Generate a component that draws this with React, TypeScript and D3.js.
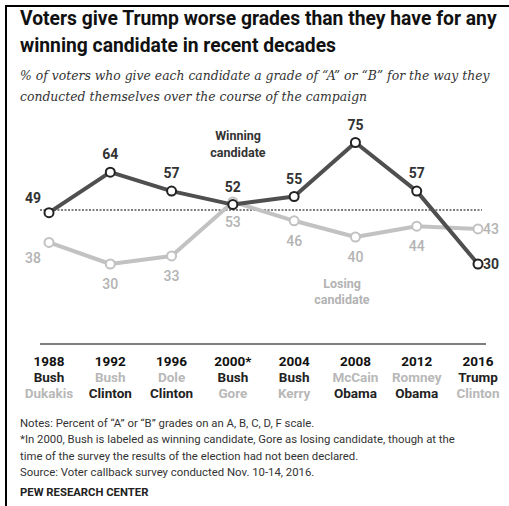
import React from "react";
import * as d3 from "d3";

const years = ["1988", "1992", "1996", "2000*", "2004", "2008", "2012", "2016"];
const republicans = ["Bush", "Bush", "Dole", "Bush", "Bush", "McCain", "Romney", "Trump"];
const democrats = ["Dukakis", "Clinton", "Clinton", "Gore", "Kerry", "Obama", "Obama", "Clinton"];
const republicanWon = [true, false, false, true, true, false, false, true];
const winningValues = [49, 64, 57, 52, 55, 75, 57, 30];
const losingValues = [38, 30, 33, 53, 46, 40, 44, 43];
const referenceValue = 50;

const titleLines = [
  "Voters give Trump worse grades than they have for any",
  "winning candidate in recent decades",
];
const subtitleLines = [
  "% of voters who give each candidate a grade of \u201CA\u201D or \u201CB\u201D for the way they",
  "conducted themselves over the course of the campaign",
];
const noteLines = [
  "Notes: Percent of \u201CA\u201D or \u201CB\u201D grades on an A, B, C, D, F scale.",
  "*In 2000, Bush is labeled as winning candidate, Gore as losing candidate, though at the",
  "time of the survey the results of the election had not been declared.",
  "Source: Voter callback survey conducted Nov. 10-14, 2016.",
];
const sourceLabel = "PEW RESEARCH CENTER";

const W = 509;
const H = 506;
const DARK = "#4f4f4f";
const LIGHT = "#c2c2c2";
const SANS = "Roboto, 'Liberation Sans', Arial, sans-serif";
const SERIF = "'DejaVu Serif', 'Liberation Serif', serif";

export default function App() {
  const x = d3.scalePoint<string>().domain(years).range([49, 478]);
  const y = d3.scaleLinear().domain([30, 75]).range([264, 142.5]);

  const line = d3
    .line<number>()
    .x((_, i) => x(years[i]) as number)
    .y((d) => y(d));

  const n = years.length;

  const labelFor = (v: number, i: number, above: boolean) => {
    const px = x(years[i]) as number;
    const py = y(v);
    if (i === 0) {
      return { x: px - 16, y: py + (above ? -15 : 16) + 5, anchor: "middle" };
    }
    if (i === n - 1) {
      return { x: px + 5, y: py + 5, anchor: "start" };
    }
    return { x: px, y: above ? py - 13 : py + 25, anchor: "middle" };
  };

  return (
    <svg
      width={W}
      height={H}
      style={{ position: "absolute", left: 0, top: 0, background: "#fff" }}
    >
      <rect x={0} y={0} width={W} height={H} fill="#fff" />
      <line x1={5} x2={W} y1={6} y2={6} stroke="#000" strokeWidth={2} />
      <line x1={6} x2={6} y1={5} y2={H} stroke="#000" strokeWidth={2} />

      {titleLines.map((t, i) => (
        <text
          key={t}
          x={20}
          y={25 + i * 27}
          fontFamily={SANS}
          fontWeight="bold"
          fontSize={19.3}
          fill="#111"
        >
          {t}
        </text>
      ))}
      {subtitleLines.map((t, i) => (
        <text
          key={t}
          x={20}
          y={80 + i * 21}
          fontFamily={SERIF}
          fontStyle="italic"
          fontSize={12.4}
          fill="#333"
        >
          {t}
        </text>
      ))}

      {/* reference line */}
      <line
        x1={40}
        x2={482}
        y1={y(referenceValue)}
        y2={y(referenceValue)}
        stroke="#000"
        strokeWidth={1}
        strokeDasharray="2,1.5"
      />

      {/* losing */}
      <path d={line(losingValues) || ""} fill="none" stroke={LIGHT} strokeWidth={4} strokeLinejoin="round" />
      {losingValues.map((v, i) => (
        <circle key={"lc" + i} cx={x(years[i])} cy={y(v)} r={4.5} fill="#fff" stroke={LIGHT} strokeWidth={2} />
      ))}

      {/* winning */}
      <path d={line(winningValues) || ""} fill="none" stroke={DARK} strokeWidth={4} strokeLinejoin="round" />
      {winningValues.map((v, i) => (
        <circle key={"wc" + i} cx={x(years[i])} cy={y(v)} r={4.5} fill="#fff" stroke="#222" strokeWidth={2} />
      ))}

      {winningValues.map((v, i) => {
        const l = labelFor(v, i, true);
        return (
          <text key={"wl" + i} x={l.x} y={l.y} textAnchor={l.anchor} fontFamily={SANS} fontWeight="bold" fontSize={14} fill="#333">
            {v}
          </text>
        );
      })}
      {losingValues.map((v, i) => {
        const l = labelFor(v, i, false);
        return (
          <text key={"ll" + i} x={l.x} y={l.y} textAnchor={l.anchor} fontFamily={SANS} fontWeight={500} fontSize={14} fill="#b3b3b3">
            {v}
          </text>
        );
      })}

      <text x={238} textAnchor="middle" fontFamily={SANS} fontWeight="bold" fontSize={12.5} fill="#333">
        <tspan x={238} y={140}>Winning</tspan>
        <tspan x={238} y={157}>candidate</tspan>
      </text>
      <text x={342} textAnchor="middle" fontFamily={SANS} fontWeight="bold" fontSize={12.5} fill="#b3b3b3">
        <tspan x={342} y={288}>Losing</tspan>
        <tspan x={342} y={304}>candidate</tspan>
      </text>

      {/* axis */}
      <line x1={40} x2={486} y1={344} y2={344} stroke="#000" strokeWidth={1.2} />
      {years.map((yr, i) => {
        const px = x(yr) as number;
        return (
          <g key={yr} fontFamily={SANS} fontWeight="bold" fontSize={13.5} textAnchor="middle">
            <text x={px} y={366} fill="#111">{yr}</text>
            <text x={px} y={382} fill={republicanWon[i] ? "#222" : "#b8b8b8"}>{republicans[i]}</text>
            <text x={px} y={398} fill={republicanWon[i] ? "#b8b8b8" : "#222"}>{democrats[i]}</text>
          </g>
        );
      })}

      {noteLines.map((t, i) => (
        <text key={t} x={20} y={427 + i * 16.3} fontFamily={SANS} fontSize={11.35} fill="#333">
          {t}
        </text>
      ))}
      <text x={20} y={496} fontFamily={SANS} fontWeight="bold" fontSize={11.3} fill="#222">
        {sourceLabel}
      </text>
    </svg>
  );
}
